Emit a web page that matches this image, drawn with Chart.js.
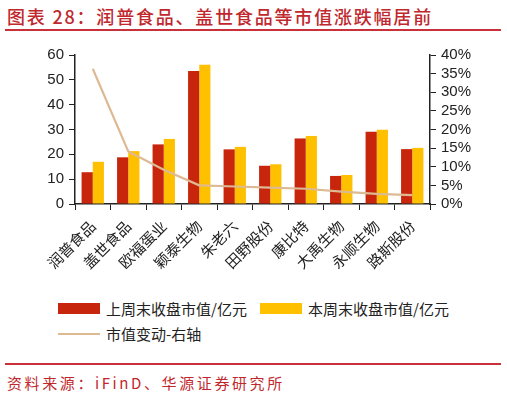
<!DOCTYPE html>
<html>
<head>
<meta charset="utf-8">
<script src="https://cdn.jsdelivr.net/npm/chart.js@4.4.1/dist/chart.umd.min.js"></script>
<style>
  body { margin: 0; width: 507px; height: 397px; background: #fff; position: relative; overflow: hidden; font-family: "Noto Sans CJK SC", sans-serif; }
  #title { position: absolute; left: 7px; top: 3px; font-size: 18px; font-weight: 500; color: #C0282E; letter-spacing: 1.8px; white-space: nowrap; }
  .rule { position: absolute; left: 5px; width: 496px; height: 2px; background: #C8303A; }
  #wrap { position: absolute; left: 0; top: 35px; width: 507px; height: 260px; }
  #legend { position: absolute; left: 58px; top: 296px; width: 440px; display: flex; flex-wrap: wrap; font-size: 15px; color: #222; }
  .item { width: 202px; height: 25px; display: flex; align-items: center; white-space: nowrap; }
  .swatch { width: 42px; margin-right: 6px; }
  #source { position: absolute; left: 7px; top: 372px; font-size: 15px; color: #C0282E; letter-spacing: 2.6px; white-space: nowrap; }
</style>
</head>
<body>
<div id="title">图表 28：润普食品、盖世食品等市值涨跌幅居前</div>
<div class="rule" style="top:29px"></div>
<div id="wrap"><canvas id="marketChart"></canvas></div>
<div id="legend"></div>
<div class="rule" style="top:363px"></div>
<div id="source">资料来源：iFinD、华源证券研究所</div>
<script>
// 数据
const categories = ["润普食品", "盖世食品", "欧福蛋业", "颖泰生物", "朱老六", "田野股份", "康比特", "大禹生物", "永顺生物", "路斯股份"];
const lastWeek = [12.8, 18.8, 24.0, 53.6, 22.0, 15.4, 26.4, 11.3, 29.1, 22.1];
const thisWeek = [17.0, 21.3, 26.2, 56.1, 23.0, 16.0, 27.4, 11.7, 29.9, 22.6];
const changePct = [36.3, 14.1, 9.2, 5.0, 4.7, 4.4, 4.1, 3.3, 2.7, 2.4];
const leftTicks = [0, 10, 20, 30, 40, 50, 60];
const rightTicks = [0, 5, 10, 15, 20, 25, 30, 35, 40];

const seriesNames = ["上周末收盘市值/亿元", "本周末收盘市值/亿元", "市值变动-右轴"];
const tickFont = { family: "Liberation Sans, Arial, sans-serif", size: 15 };

function initChart() {
    const canvas = document.getElementById("marketChart");

    const chart = new Chart(canvas, {
        type: "bar",
        data: {
            labels: categories,
            datasets: [{
                label: seriesNames[0],
                data: lastWeek,
                backgroundColor: "#C8260C",
                categoryPercentage: 0.63,
                barPercentage: 1.0,
                yAxisID: "y",
                order: 1
            }, {
                label: seriesNames[1],
                data: thisWeek,
                backgroundColor: "#FFC000",
                categoryPercentage: 0.63,
                barPercentage: 1.0,
                yAxisID: "y",
                order: 1
            }, {
                type: "line",
                label: seriesNames[2],
                data: changePct,
                borderColor: "#DDBA93",
                borderWidth: 2.2,
                pointRadius: 0,
                tension: 0,
                yAxisID: "y1",
                order: 0
            }]
        },
        options: {
            responsive: true,
            maintainAspectRatio: false,
            animation: false,
            layout: { padding: { top: 20, right: 0, left: 0, bottom: 0 } },
            plugins: {
                legend: { display: false },
                tooltip: { enabled: false }
            },
            scales: {
                x: {
                    grid: { offset: true, drawOnChartArea: false, drawTicks: true, tickLength: 6, color: "#222" },
                    border: { color: "#222", width: 1.5 },
                    ticks: {
                        minRotation: 45,
                        maxRotation: 45,
                        autoSkip: false,
                        padding: 7,
                        color: "#222",
                        font: { family: "Noto Sans CJK SC", size: 15 }
                    },
                    afterFit: s => { s.height = 91; }
                },
                y: {
                    position: "left",
                    min: leftTicks[0],
                    max: leftTicks[leftTicks.length - 1],
                    afterBuildTicks: s => { s.ticks = leftTicks.map(v => ({ value: v })); },
                    grid: { drawOnChartArea: false, drawTicks: true, tickLength: 6, color: "#222" },
                    border: { color: "#222", width: 1.5 },
                    ticks: { autoSkip: false, padding: 5, color: "#222", font: tickFont },
                    afterFit: s => { s.width = 75; }
                },
                y1: {
                    position: "right",
                    min: rightTicks[0],
                    max: rightTicks[rightTicks.length - 1],
                    afterBuildTicks: s => { s.ticks = rightTicks.map(v => ({ value: v })); },
                    grid: { drawOnChartArea: false, drawTicks: true, tickLength: 6, color: "#222" },
                    border: { color: "#222", width: 1.5 },
                    ticks: { autoSkip: false, padding: 5, color: "#222", font: tickFont, callback: v => v + "%" },
                    afterFit: s => { s.width = 77; }
                }
            }
        }
    });

    // 图例（HTML）
    const legend = document.getElementById("legend");
    chart.data.datasets.forEach(ds => {
        const item = document.createElement("div");
        item.className = "item";
        const sw = document.createElement("span");
        sw.className = "swatch";
        if (ds.type === "line") {
            sw.style.height = "2px";
            sw.style.background = ds.borderColor;
        } else {
            sw.style.height = "11px";
            sw.style.background = ds.backgroundColor;
        }
        item.appendChild(sw);
        item.appendChild(document.createTextNode(ds.label));
        legend.appendChild(item);
    });
}

document.addEventListener("DOMContentLoaded", initChart);
</script>
</body>
</html>
